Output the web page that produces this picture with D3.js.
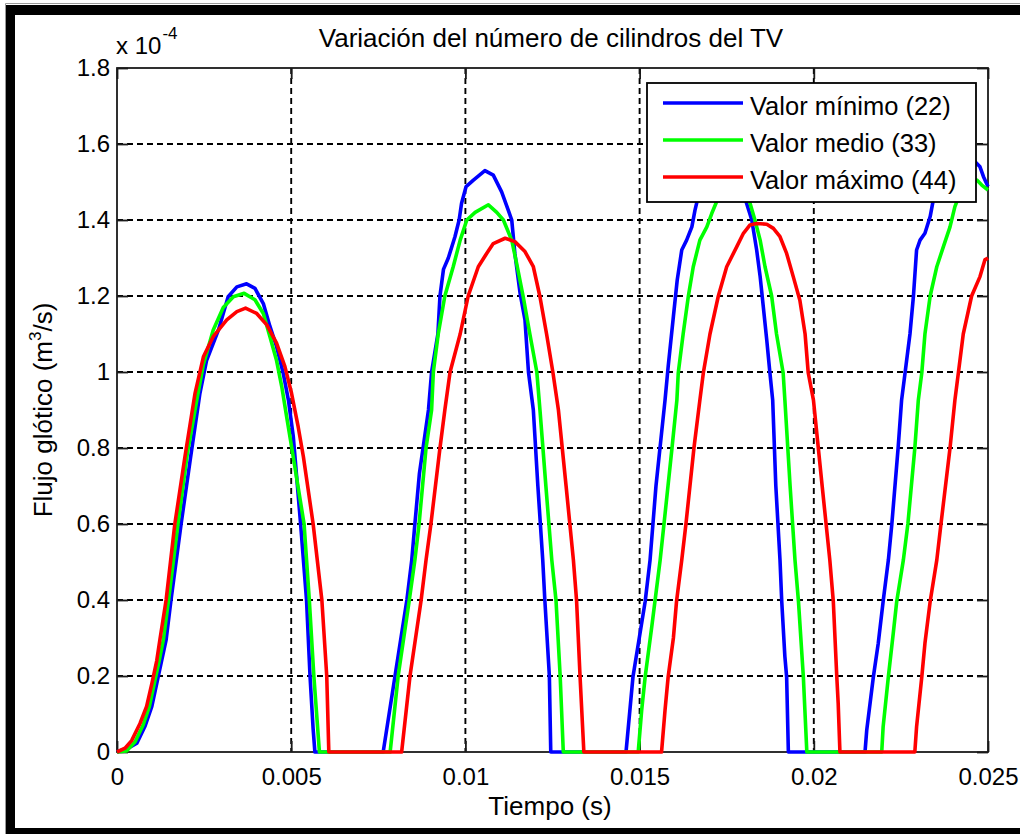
<!DOCTYPE html>
<html>
<head>
<meta charset="utf-8">
<script src="https://cdn.jsdelivr.net/npm/d3@7"></script>
<style>
  html, body { margin: 0; padding: 0; background: #ffffff; }
  svg { display: block; }
  text { font-family: "Liberation Sans", Arial, Helvetica, sans-serif; fill: #000; }
</style>
</head>
<body>
<svg id="chart" width="1020" height="834"></svg>
<script>
// Axis ticks and their labels (flow in units of 1e-4 m^3/s, time in s)
const xTicks = [0, 0.005, 0.01, 0.015, 0.02, 0.025];
const xTickLabels = ["0", "0.005", "0.01", "0.015", "0.02", "0.025"];
const yTicks = [0, 0.2, 0.4, 0.6, 0.8, 1.0, 1.2, 1.4, 1.6, 1.8];
const yTickLabels = ["0", "0.2", "0.4", "0.6", "0.8", "1", "1.2", "1.4", "1.6", "1.8"];

const seriesNames = ["Valor mínimo (22)", "Valor medio (33)", "Valor máximo (44)"];

// Glottal flow, [time (s), flow (x1e-4 m^3/s)] — 22 cylinders
const flujoMinimo = [
  [0,0],[0.00014,0.005],[0.00032,0.01],[0.00057,0.023],[0.00080,0.067],[0.00100,0.12],[0.00114,0.18],
  [0.00128,0.24],[0.00141,0.295],[0.00155,0.40],[0.00184,0.60],[0.00210,0.768],[0.00238,0.944],
  [0.00257,1.03],[0.00291,1.11],[0.00319,1.198],[0.00344,1.224],[0.00372,1.232],[0.00396,1.22],
  [0.00420,1.18],[0.00439,1.12],[0.00458,1.067],[0.00477,0.997],[0.00492,0.926],[0.00506,0.83],
  [0.00527,0.60],[0.00544,0.40],[0.00554,0.20],[0.00563,0.06],[0.00568,0],[0.00764,0],
  [0.00798,0.20],[0.00832,0.40],[0.00846,0.505],[0.00855,0.60],[0.00868,0.733],[0.00894,0.90],
  [0.00903,1.00],[0.00921,1.10],[0.00927,1.20],[0.00937,1.27],[0.00951,1.30],[0.00970,1.356],
  [0.00982,1.40],[0.00989,1.444],[0.01002,1.488],[0.01023,1.505],[0.01056,1.53],[0.01080,1.518],
  [0.01104,1.474],[0.01123,1.426],[0.01133,1.40],[0.01142,1.312],[0.01157,1.207],[0.01171,1.137],
  [0.01181,1.00],[0.01195,0.90],[0.01208,0.70],[0.01222,0.505],[0.01228,0.40],[0.01241,0.20],
  [0.01245,0],[0.01461,0],
  [0.01481,0.198],[0.01516,0.396],[0.01530,0.505],[0.01547,0.70],[0.01573,0.926],[0.01582,1.014],
  [0.01597,1.146],[0.01608,1.242],[0.01621,1.321],[0.01635,1.347],[0.01650,1.382],[0.01659,1.426],
  [0.01666,1.453],[0.01682,1.50],[0.01708,1.55],[0.01737,1.575],[0.01765,1.56],[0.01788,1.51],
  [0.01807,1.444],[0.01822,1.40],[0.01836,1.321],[0.01846,1.251],[0.01855,1.172],[0.01865,1.084],
  [0.01874,0.998],[0.01882,0.926],[0.01891,0.70],[0.01903,0.505],[0.01908,0.396],[0.01917,0.251],
  [0.01922,0.198],[0.01927,0],[0.02147,0],
  [0.02152,0.058],[0.02171,0.198],[0.02185,0.286],[0.02199,0.396],[0.02214,0.505],[0.02224,0.60],
  [0.02242,0.80],[0.02252,0.926],[0.02262,0.998],[0.02276,1.10],[0.02286,1.20],[0.02295,1.321],
  [0.02305,1.347],[0.02319,1.365],[0.02334,1.409],[0.02343,1.453],[0.02362,1.51],[0.02391,1.55],
  [0.02425,1.565],[0.02463,1.553],[0.02477,1.54],[0.02487,1.514],[0.02500,1.488]
];

// 33 cylinders
const flujoMedio = [
  [0,0],[0.00028,0.003],[0.00052,0.027],[0.00075,0.071],[0.00093,0.12],[0.00107,0.18],[0.00121,0.24],
  [0.00133,0.295],[0.00148,0.40],[0.00175,0.60],[0.00202,0.786],[0.00229,0.926],[0.00248,1.02],
  [0.00276,1.11],[0.00305,1.17],[0.00334,1.198],[0.00365,1.207],[0.00396,1.19],[0.00420,1.154],
  [0.00439,1.093],[0.00458,1.03],[0.00473,0.961],[0.00487,0.882],[0.00501,0.804],[0.00537,0.60],
  [0.00552,0.40],[0.00565,0.20],[0.00581,0],[0.00784,0],
  [0.00807,0.20],[0.00839,0.40],[0.00855,0.505],[0.00867,0.60],[0.00887,0.80],[0.00903,0.90],
  [0.00908,1.00],[0.00922,1.10],[0.00941,1.20],[0.00965,1.277],[0.00985,1.347],[0.01004,1.40],
  [0.01028,1.42],[0.01066,1.44],[0.01090,1.42],[0.01109,1.40],[0.01133,1.347],[0.01147,1.286],
  [0.01166,1.198],[0.01185,1.10],[0.01205,1.00],[0.01214,0.90],[0.01231,0.70],[0.01248,0.505],
  [0.01260,0.40],[0.01272,0.20],[0.01281,0],[0.01496,0],
  [0.01506,0.11],[0.01516,0.198],[0.01535,0.33],[0.01544,0.396],[0.01559,0.505],[0.01570,0.60],
  [0.01593,0.80],[0.01607,0.926],[0.01611,0.998],[0.01625,1.10],[0.01640,1.20],[0.01654,1.277],
  [0.01673,1.347],[0.01693,1.382],[0.01707,1.417],[0.01721,1.448],[0.01745,1.49],[0.01774,1.51],
  [0.01800,1.49],[0.01817,1.444],[0.01831,1.40],[0.01846,1.347],[0.01860,1.277],[0.01879,1.20],
  [0.01893,1.10],[0.01912,0.998],[0.01917,0.926],[0.01932,0.70],[0.01946,0.505],[0.01956,0.396],
  [0.01970,0.198],[0.01980,0],[0.02195,0],
  [0.02199,0.066],[0.02214,0.198],[0.02228,0.312],[0.02238,0.396],[0.02257,0.505],[0.02270,0.60],
  [0.02290,0.80],[0.02300,0.926],[0.02310,0.998],[0.02319,1.10],[0.02334,1.20],[0.02353,1.277],
  [0.02372,1.33],[0.02391,1.382],[0.02405,1.435],[0.02420,1.47],[0.02443,1.505],[0.02468,1.505],
  [0.02482,1.492],[0.02500,1.479]
];

// 44 cylinders
const flujoMaximo = [
  [0,0],[0.00023,0.01],[0.00042,0.03],[0.00066,0.075],[0.00085,0.12],[0.00100,0.18],[0.00114,0.24],
  [0.00123,0.295],[0.00141,0.40],[0.00166,0.60],[0.00195,0.777],[0.00224,0.944],[0.00248,1.04],
  [0.00276,1.093],[0.00315,1.137],[0.00344,1.159],[0.00369,1.168],[0.00401,1.154],[0.00430,1.124],
  [0.00458,1.076],[0.00482,1.014],[0.00501,0.944],[0.00520,0.856],[0.00535,0.777],[0.00563,0.60],
  [0.00588,0.40],[0.00602,0.20],[0.00608,0],[0.00817,0],
  [0.00841,0.20],[0.00873,0.40],[0.00887,0.505],[0.00901,0.60],[0.00927,0.80],[0.00941,0.90],
  [0.00956,1.00],[0.00985,1.10],[0.01008,1.20],[0.01037,1.277],[0.01061,1.312],[0.01080,1.338],
  [0.01114,1.352],[0.01142,1.343],[0.01171,1.317],[0.01195,1.277],[0.01214,1.198],[0.01233,1.10],
  [0.01251,1.00],[0.01267,0.90],[0.01289,0.70],[0.01310,0.505],[0.01319,0.40],[0.01329,0.20],
  [0.01340,0],[0.01563,0],
  [0.01573,0.11],[0.01582,0.198],[0.01597,0.30],[0.01606,0.396],[0.01621,0.505],[0.01633,0.60],
  [0.01656,0.80],[0.01673,0.926],[0.01683,0.998],[0.01702,1.10],[0.01726,1.20],[0.01750,1.277],
  [0.01779,1.33],[0.01798,1.365],[0.01817,1.387],[0.01836,1.391],[0.01865,1.389],[0.01884,1.378],
  [0.01903,1.356],[0.01922,1.312],[0.01941,1.251],[0.01960,1.189],[0.01975,1.10],[0.01984,0.998],
  [0.01999,0.926],[0.02024,0.70],[0.02046,0.505],[0.02056,0.396],[0.02066,0.198],[0.02070,0.128],
  [0.02075,0],[0.02290,0],
  [0.02295,0.066],[0.02310,0.198],[0.02319,0.286],[0.02334,0.396],[0.02353,0.505],[0.02365,0.60],
  [0.02391,0.80],[0.02405,0.926],[0.02415,0.998],[0.02429,1.10],[0.02453,1.20],[0.02477,1.251],
  [0.02491,1.295],[0.02500,1.30]
];

const series = [flujoMinimo, flujoMedio, flujoMaximo];
const colors = ["#0000ff", "#00ff00", "#ff0000"];

// ---- layout ----
const W = 1020, H = 834;
const plot = { left: 117, right: 988, top: 68, bottom: 752 };
const tickLen = 11;

const svg = d3.select("#chart");
svg.append("rect").attr("width", W).attr("height", H).attr("fill", "#ffffff");

const x = d3.scaleLinear().domain([0, 0.025]).range([plot.left, plot.right]);
const y = d3.scaleLinear().domain([0, 1.8]).range([plot.bottom, plot.top]);

// ---- dashed grid ----
const grid = svg.append("g")
  .attr("stroke", "#000").attr("stroke-width", 1.9).attr("stroke-dasharray", "6,4");
grid.selectAll("line.gx").data(xTicks.slice(1, -1)).join("line").attr("class", "gx")
  .attr("x1", d => x(d)).attr("x2", d => x(d))
  .attr("y1", plot.top).attr("y2", plot.bottom);
grid.selectAll("line.gy").data(yTicks.slice(1, -1)).join("line").attr("class", "gy")
  .attr("y1", d => y(d)).attr("y2", d => y(d))
  .attr("x1", plot.left).attr("x2", plot.right);

// ---- axes (MATLAB style: inward ticks on all four sides) ----
function styleAxis(g, fontSize) {
  g.select(".domain").remove();
  g.selectAll(".tick line").attr("stroke", "#1a1a1a").attr("stroke-width", 1.8);
  g.selectAll(".tick text").attr("font-size", fontSize).attr("fill", "#000")
    .attr("font-family", "Liberation Sans, Arial, sans-serif");
}

svg.append("g").attr("transform", `translate(0,${plot.bottom})`)
  .call(d3.axisBottom(x).tickValues(xTicks).tickFormat((d, i) => xTickLabels[i])
    .tickSizeInner(-tickLen).tickSizeOuter(0).tickPadding(16))
  .call(g => styleAxis(g, 24));

svg.append("g").attr("transform", `translate(${plot.left},0)`)
  .call(d3.axisLeft(y).tickValues(yTicks).tickFormat((d, i) => yTickLabels[i])
    .tickSizeInner(-tickLen).tickSizeOuter(0).tickPadding(7))
  .call(g => styleAxis(g, 24));

svg.append("g").attr("transform", `translate(0,${plot.top})`)
  .call(d3.axisTop(x).tickValues(xTicks).tickFormat("").tickSizeInner(-tickLen).tickSizeOuter(0))
  .call(g => styleAxis(g, 24));

svg.append("g").attr("transform", `translate(${plot.right},0)`)
  .call(d3.axisRight(y).tickValues(yTicks).tickFormat("").tickSizeInner(-tickLen).tickSizeOuter(0))
  .call(g => styleAxis(g, 24));

// axes box
svg.append("rect")
  .attr("x", plot.left).attr("y", plot.top)
  .attr("width", plot.right - plot.left).attr("height", plot.bottom - plot.top)
  .attr("fill", "none").attr("stroke", "#1a1a1a").attr("stroke-width", 1.8);

// ---- flow curves ----
const line = d3.line().x(d => x(d[0])).y(d => y(d[1])).curve(d3.curveLinear);
svg.append("g").selectAll("path").data(series).join("path")
  .attr("d", line)
  .attr("fill", "none")
  .attr("stroke", (d, i) => colors[i])
  .attr("stroke-width", 3.6)
  .attr("stroke-linejoin", "round")
  .attr("stroke-linecap", "butt");

// ---- exponent label ----
const expo = svg.append("text").attr("x", 116).attr("y", 54).attr("font-size", 24);
expo.append("tspan").text("x 10");
expo.append("tspan").attr("font-size", 17).attr("dy", -15).attr("dx", 1).text("-4");

// ---- title and axis labels ----
svg.append("text").attr("x", 551).attr("y", 47).attr("text-anchor", "middle")
  .attr("font-size", 26).text("Variación del número de cilindros del TV");

svg.append("text").attr("x", 550).attr("y", 815).attr("text-anchor", "middle")
  .attr("font-size", 26).text("Tiempo (s)");

const ylab = svg.append("text")
  .attr("transform", "translate(52,410) rotate(-90)")
  .attr("text-anchor", "middle").attr("font-size", 26);
ylab.append("tspan").text("Flujo glótico (m");
ylab.append("tspan").attr("font-size", 17).attr("dy", -11).text("3");
ylab.append("tspan").attr("dy", 11).text("/s)");

// ---- legend ----
const legend = svg.append("g").attr("transform", "translate(647,83)");
legend.append("rect").attr("width", 329).attr("height", 119)
  .attr("fill", "#ffffff").attr("stroke", "#000").attr("stroke-width", 1.8);
const rows = legend.selectAll("g.row").data(seriesNames).join("g").attr("class", "row")
  .attr("transform", (d, i) => `translate(0,${20 + i * 37})`);
rows.append("line").attr("x1", 16).attr("x2", 96).attr("y1", 0).attr("y2", 0)
  .attr("stroke", (d, i) => colors[i]).attr("stroke-width", 3.6);
rows.append("text").attr("x", 103).attr("y", 12).attr("font-size", 25.5).text(d => d);

// ---- figure frame ----
const frame = svg.append("g").attr("fill", "#000");
frame.append("rect").attr("x", 6).attr("y", 5).attr("width", W - 6).attr("height", 10);
frame.append("rect").attr("x", 6).attr("y", 5).attr("width", 9).attr("height", H - 5);
frame.append("rect").attr("x", 6).attr("y", 828).attr("width", W - 6).attr("height", 6);
svg.append("path").attr("d", `M5.5,${H} V3.5 H${W}`).attr("fill", "none")
  .attr("stroke", "#9a9a9a").attr("stroke-width", 1);
</script>
</body>
</html>
